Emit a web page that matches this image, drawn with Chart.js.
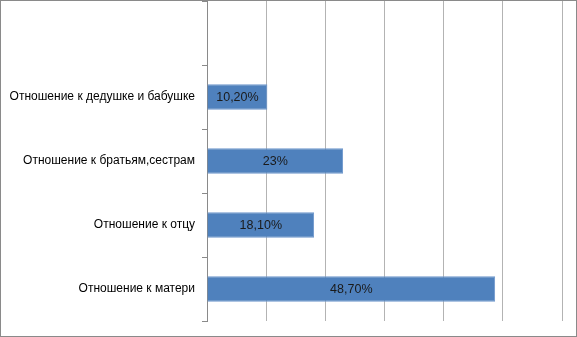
<!DOCTYPE html>
<html>
<head>
<meta charset="utf-8">
<script src="https://cdn.jsdelivr.net/npm/chart.js@4.4.1/dist/chart.umd.min.js"></script>
<style>
  body { margin: 0; background: #fff; }
  #wrap { width: 577px; height: 337px; box-sizing: border-box; border: 1px solid #8a8a8a; }
</style>
</head>
<body>
<div id="wrap"><canvas id="chart" width="575" height="335"></canvas></div>
<script>
// categories (top to bottom), first slot is empty in the original
const categories = ['', 'Отношение к дедушке и бабушке', 'Отношение к братьям,сестрам', 'Отношение к отцу', 'Отношение к матери'];
const values = [null, 10.2, 23, 18.1, 48.7];
const valueLabels = ['', '10,20%', '23%', '18,10%', '48,70%'];

const barLabelPlugin = {
    id: 'barLabels',
    afterDatasetsDraw: function (chart) {
        const ctx = chart.ctx;
        const meta = chart.getDatasetMeta(0);
        ctx.save();
        ctx.font = '12.5px "Liberation Sans", Arial, sans-serif';
        ctx.fillStyle = '#1a1a1a';
        ctx.textAlign = 'center';
        ctx.textBaseline = 'middle';
        meta.data.forEach((bar, i) => {
            if (values[i] == null) return;
            const cx = (bar.x + bar.base) / 2;
            ctx.fillText(valueLabels[i], cx, bar.y + 1);
        });
        ctx.restore();
    }
};

const ctx = document.getElementById('chart').getContext('2d');
const chart = new Chart(ctx, {
    type: 'bar',
    data: {
        labels: categories,
        datasets: [{
            data: values,
            backgroundColor: '#4f81bd',
            borderColor: '#6e97cc',
            borderWidth: 1,
            barPercentage: 0.4,
            categoryPercentage: 1
        }]
    },
    options: {
        indexAxis: 'y',
        responsive: false,
        animation: false,
        layout: { padding: { top: 0, right: 14, bottom: 15, left: 0 } },
        plugins: {
            legend: { display: false },
            tooltip: { enabled: false }
        },
        scales: {
            x: {
                min: 0,
                max: 60,
                ticks: { display: false, stepSize: 10 },
                grid: { color: '#b3b3b3', drawTicks: false },
                border: { display: false }
            },
            y: {
                afterFit: function (scale) {
                    scale.width = 206;
                    scale.paddingTop = 0;
                    scale.paddingBottom = 0;
                },
                ticks: {
                    color: '#000',
                    padding: 7,
                    font: { family: '"Liberation Sans", Arial, sans-serif', size: 12 }
                },
                grid: {
                    offset: true,
                    drawOnChartArea: false,
                    tickLength: 5,
                    color: '#8a8a8a'
                },
                border: { display: true, color: '#8a8a8a' }
            }
        }
    },
    plugins: [barLabelPlugin]
});
</script>
</body>
</html>
